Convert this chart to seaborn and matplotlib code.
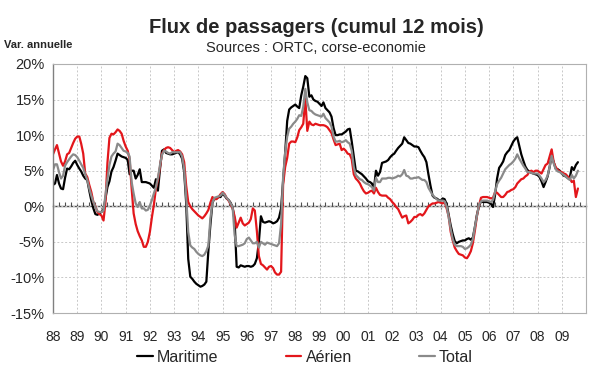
import matplotlib
matplotlib.use('Agg')
import matplotlib.pyplot as plt
import matplotlib.dates as mdates
from matplotlib.lines import Line2D
import pandas as pd
import seaborn as sns

# Variation annuelle (%) du flux de passagers, cumul 12 mois, mensuel de janv. 1988 a sept. 2009
maritime = [
    3.0, 3.2, 4.4, 3.2, 2.5, 2.4, 4.0, 5.3, 5.2, 5.6, 6.1, 6.4,  # 88
    5.8, 5.3, 4.9, 4.3, 3.9, 3.7, 2.2, 0.8, -0.3, -1.1, -1.2, -1.0,  # 89
    -0.8, -0.5, 1.0, 2.7, 3.5, 4.9, 5.5, 6.4, 7.4, 7.2, 7.0, 6.9,  # 90
    6.8, 6.5, 4.5, 5.0, 5.0, 3.9, 4.4, 5.2, 3.4, 3.4, 3.4, 3.3,  # 91
    3.2, 2.9, 2.6, 3.8, 2.2, 5.2, 7.8, 8.0, 7.5, 7.4, 7.3, 7.3,  # 92
    7.4, 7.5, 7.6, 7.3, 6.7, 4.8, 0.5, -7.4, -9.9, -10.2, -10.6, -10.9,  # 93
    -11.1, -11.3, -11.2, -11.0, -10.6, -6.2, -2.6, 0.5, 1.1, 1.1, 1.3, 1.3,  # 94
    1.8, 1.5, 1.1, 0.9, 0.5, -0.1, -2.0, -8.5, -8.6, -8.3, -8.4, -8.5,  # 95
    -8.4, -8.4, -8.5, -8.4, -8.1, -7.3, -5.0, -1.4, -2.2, -2.3, -2.2, -2.1,  # 96
    -2.2, -2.4, -2.3, -2.1, -1.6, -0.3, 3.6, 7.5, 12.0, 13.6, 13.9, 14.1,  # 97
    14.3, 14.0, 13.8, 15.6, 16.8, 18.3, 18.0, 15.4, 15.6, 15.0, 14.8, 14.7,  # 98
    14.4, 14.1, 14.6, 13.8, 13.5, 13.2, 12.6, 11.0, 10.0, 10.0, 10.1, 10.1,  # 99
    10.3, 10.5, 10.8, 10.9, 9.1, 7.0, 5.0, 4.9, 4.7, 4.5, 4.2, 3.9,  # 00
    3.5, 3.4, 3.2, 2.5, 5.0, 4.3, 4.8, 6.1, 6.2, 6.3, 6.5, 6.9,  # 01
    7.2, 7.4, 7.8, 8.2, 8.5, 8.8, 9.7, 9.3, 8.9, 8.8, 8.6, 8.4,  # 02
    8.4, 8.3, 7.8, 7.3, 6.9, 6.2, 4.5, 2.9, 1.5, 1.2, 1.1, 0.9,  # 03
    0.8, 1.1, 1.0, 0.3, -1.2, -2.7, -3.9, -4.9, -5.2, -5.0, -4.9, -4.8,  # 04
    -4.8, -4.6, -4.5, -4.7, -4.4, -2.9, -1.2, 0.0, 0.7, 0.6, 0.6, 0.6,  # 05
    0.5, 0.3, -0.1, 1.6, 3.9, 5.4, 5.8, 6.3, 7.2, 7.6, 7.9, 8.5,  # 06
    9.1, 9.5, 9.7, 8.5, 7.3, 6.4, 5.6, 5.1, 4.9, 4.7, 4.6, 4.5,  # 07
    4.4, 4.1, 3.5, 2.7, 3.4, 4.2, 5.5, 7.1, 6.2, 5.3, 5.2, 5.0,  # 08
    4.6, 4.3, 4.2, 4.0, 4.0, 5.5, 5.1, 5.8, 6.2,  # 09
]

aerien = [
    7.3, 8.0, 8.6, 7.4, 6.3, 5.7, 6.3, 7.3, 7.5, 8.2, 8.9, 9.5,  # 88
    9.8, 9.8, 8.8, 7.4, 4.6, 4.1, 3.0, 2.0, 0.6, 0.0, -0.8, -1.1,  # 89
    -1.3, -2.0, 0.4, 6.1, 9.6, 10.2, 10.1, 10.4, 10.8, 10.6, 10.2, 9.2,  # 90
    8.4, 7.8, 6.6, 2.5, -1.0, -2.5, -3.5, -4.2, -4.8, -5.7, -5.7, -5.0,  # 91
    -3.6, -1.5, 0.2, 2.5, 3.7, 5.5, 7.4, 7.9, 8.2, 8.3, 8.2, 7.9,  # 92
    7.6, 7.8, 7.9, 7.7, 7.3, 6.2, 2.9, 0.6, 0.0, -0.4, -0.7, -1.0,  # 93
    -1.3, -1.5, -1.7, -1.4, -1.0, -0.5, 0.5, 1.3, 1.0, 1.0, 1.3, 1.7,  # 94
    2.0, 1.7, 1.2, 0.8, 0.3, -0.3, -1.4, -3.0, -2.3, -1.6, -2.4, -2.7,  # 95
    -2.5, -2.3, -1.8, -0.3, -0.6, -3.5, -7.0, -8.1, -8.3, -8.6, -8.9, -8.5,  # 96
    -8.4, -8.7, -9.3, -9.6, -9.6, -9.2, 3.0, 5.5, 6.8, 8.8, 9.1, 9.1,  # 97
    9.0, 9.7, 10.7, 11.1, 11.6, 15.1, 10.6, 11.9, 11.5, 11.4, 11.6, 11.5,  # 98
    11.4, 11.4, 11.4, 11.3, 11.1, 10.7, 10.3, 9.4, 8.6, 8.7, 8.8, 7.9,  # 99
    8.1, 7.8, 7.4, 7.3, 6.6, 4.5, 3.9, 3.6, 3.2, 2.6, 2.1, 1.8,  # 00
    1.9, 2.1, 2.2, 1.8, 2.6, 2.0, 1.6, 1.5, 1.5, 1.5, 1.2, 1.0,  # 01
    0.6, 0.3, -0.1, -0.4, -1.0, -1.6, -1.4, -1.3, -2.4, -2.2, -1.9, -1.5,  # 02
    -1.5, -1.2, -1.1, -1.3, -1.0, -0.5, 0.0, 0.2, 0.4, 0.4, 0.5, 0.6,  # 03
    0.5, 0.4, 0.6, -0.3, -1.4, -3.6, -4.8, -5.8, -6.3, -6.7, -6.8, -6.9,  # 04
    -7.2, -7.3, -6.9, -6.3, -5.2, -3.4, -1.4, 0.1, 1.2, 1.3, 1.3, 1.3,  # 05
    1.2, 1.1, 1.2, 2.0, 1.9, 1.6, 1.3, 1.3, 1.6, 2.0, 2.1, 2.3,  # 06
    2.4, 2.7, 3.2, 3.5, 3.8, 3.9, 4.2, 4.4, 4.9, 5.0, 4.8, 5.0,  # 07
    5.0, 4.8, 4.6, 5.2, 5.8, 6.0, 7.0, 8.0, 6.2, 5.5, 5.1, 4.9,  # 08
    4.8, 4.6, 4.5, 4.2, 3.9, 3.4, 3.6, 1.3, 2.5,  # 09
]

total = [
    5.1, 5.9, 5.9, 4.8, 3.9, 4.3, 5.7, 6.2, 6.6, 7.0, 7.3, 7.2,  # 88
    6.9, 6.4, 5.9, 5.4, 4.5, 3.7, 2.5, 1.5, 0.6, -0.1, -0.7, -0.8,  # 89
    -0.8, -0.6, 1.5, 3.8, 5.8, 7.0, 7.4, 7.7, 8.8, 8.6, 8.2, 7.8,  # 90
    7.7, 7.5, 7.0, 3.4, 1.8, 0.4, -0.1, 0.6, -0.3, -0.3, -0.6, -0.5,  # 91
    0.1, 0.9, 1.8, 2.7, 4.0, 5.8, 7.2, 7.8, 7.7, 7.5, 7.4, 7.6,  # 92
    7.6, 7.6, 7.6, 7.6, 7.0, 5.2, 1.3, -3.6, -5.5, -5.8, -6.0, -6.4,  # 93
    -6.7, -6.9, -7.0, -6.8, -6.3, -5.5, -1.7, 0.5, 1.2, 1.3, 1.4, 1.5,  # 94
    1.9, 1.6, 1.2, 0.9, 0.4, -0.1, -4.0, -5.6, -5.6, -5.5, -5.4, -5.2,  # 95
    -4.6, -4.4, -4.8, -5.2, -5.2, -5.0, -5.8, -5.0, -5.2, -5.4, -5.1, -5.2,  # 96
    -5.3, -5.4, -5.5, -5.6, -5.2, -2.5, 4.0, 7.5, 9.8, 10.9, 11.2, 11.6,  # 97
    11.9, 12.3, 12.8, 12.7, 14.0, 16.5, 14.6, 13.5, 13.4, 13.1, 12.9, 12.8,  # 98
    12.7, 12.6, 13.0, 12.4, 12.1, 11.8, 11.2, 9.8, 9.1, 9.1, 9.2, 9.0,  # 99
    9.1, 9.3, 9.0, 8.8, 7.8, 5.5, 4.4, 4.1, 3.8, 3.7, 3.4, 3.2,  # 00
    3.1, 2.9, 2.7, 2.2, 4.0, 3.4, 3.4, 3.9, 3.9, 3.9, 4.0, 4.0,  # 01
    3.9, 4.0, 4.1, 4.3, 4.2, 4.5, 5.1, 4.3, 4.2, 3.9, 3.9, 4.0,  # 02
    4.0, 4.1, 3.9, 3.7, 3.7, 3.4, 2.6, 2.1, 1.6, 1.3, 1.0, 0.8,  # 03
    0.8, 0.8, 0.7, 0.0, -1.5, -3.2, -4.6, -5.4, -5.6, -5.6, -5.6, -5.7,  # 04
    -6.0, -5.9, -5.7, -5.4, -4.6, -2.9, -1.4, 0.2, 0.7, 0.8, 0.8, 0.8,  # 05
    0.7, 0.6, 0.9, 2.0, 3.1, 3.6, 4.0, 4.6, 5.2, 5.5, 5.8, 6.0,  # 06
    6.3, 6.7, 7.3, 6.7, 6.2, 5.7, 5.3, 4.8, 4.8, 4.7, 4.6, 4.6,  # 07
    4.6, 4.3, 3.9, 3.4, 3.7, 4.3, 5.5, 7.1, 6.0, 5.2, 4.9, 4.8,  # 08
    4.6, 4.4, 4.2, 3.9, 3.7, 4.4, 3.9, 4.3, 5.0,  # 09
]

series_names = ['Maritime', 'Aérien', 'Total']
colors = {'Maritime': '#000000', 'Aérien': '#e3161b', 'Total': '#8a8a8a'}
year_labels = ['88', '89', '90', '91', '92', '93', '94', '95', '96', '97', '98',
               '99', '00', '01', '02', '03', '04', '05', '06', '07', '08', '09']
y_ticks = [-15, -10, -5, 0, 5, 10, 15, 20]
y_labels = ['-15%', '-10%', '-5%', '0%', '5%', '10%', '15%', '20%']

dates = pd.date_range('1988-01-01', periods=len(maritime), freq='MS')
df = pd.DataFrame({'date': dates, 'Maritime': maritime, 'Aérien': aerien, 'Total': total})
df = df.melt(id_vars='date', var_name='serie', value_name='var')

sns.set_style('white')
plt.rcParams['font.family'] = ['Liberation Sans', 'DejaVu Sans']

fig = plt.figure(figsize=(6, 3.72), dpi=100)
ax = fig.add_axes([0.0883, 0.1586, 0.8884, 0.6694])

sns.lineplot(data=df, x='date', y='var', hue='serie', hue_order=series_names,
             palette=colors, linewidth=1.6, ax=ax, legend=False)

# axes
year_ticks = pd.date_range('1988-01-01', periods=len(year_labels), freq='YS')
ax.set_xlim(pd.Timestamp('1988-01-01'), pd.Timestamp('2010-01-01'))
ax.set_ylim(-15, 20)
ax.set_xticks(year_ticks)
ax.set_xticklabels(year_labels)
ax.set_yticks(y_ticks)
ax.set_yticklabels(y_labels)
ax.set_xlabel('')
ax.set_ylabel('')
ax.grid(True, linestyle=(0, (2, 2)), color='#c8c8c8', linewidth=0.7)
ax.tick_params(axis='x', length=0, pad=12, labelsize=10)
ax.tick_params(axis='y', length=4, direction='out', color='#808080', labelsize=10.5, pad=2)
for side in ['top', 'right', 'bottom']:
    ax.spines[side].set_color('#b0b0b0')
    ax.spines[side].set_linewidth(0.8)
ax.spines['left'].set_color('#808080')
ax.spines['left'].set_linewidth(1)

# axe horizontal a 0 % avec ses graduations
zero = ax.secondary_xaxis(15 / 35)
zero.xaxis.set_major_locator(mdates.YearLocator())
zero.xaxis.set_minor_locator(mdates.MonthLocator(bymonth=[4, 7, 10]))
zero.tick_params(which='both', labelbottom=False, labeltop=False, color='#505050')
zero.tick_params(which='major', direction='inout', length=5, width=0.8)
zero.tick_params(which='minor', direction='in', length=3, width=0.8)
for side in ['top', 'bottom']:
    zero.spines[side].set_color('#505050')
    zero.spines[side].set_linewidth(1)

# textes
fig.text(0.527, 0.925, 'Flux de passagers (cumul 12 mois)', ha='center', va='center',
         fontsize=14.5, fontweight='bold')
fig.text(0.526, 0.871, 'Sources : ORTC, corse-economie', ha='center', va='center', fontsize=10.5)
fig.text(0.007, 0.879, 'Var. annuelle', ha='left', va='center', fontsize=8, fontweight='bold')

handles = [Line2D([], [], color=colors[s], linewidth=1.6) for s in series_names]
fig.legend(handles, series_names, loc='center', bbox_to_anchor=(0.508, 1 - 357 / 372),
           ncol=3, frameon=False, fontsize=11.5, handlelength=1.0, handletextpad=0.25,
           columnspacing=4.2)

fig.savefig('out.png', dpi=100)
